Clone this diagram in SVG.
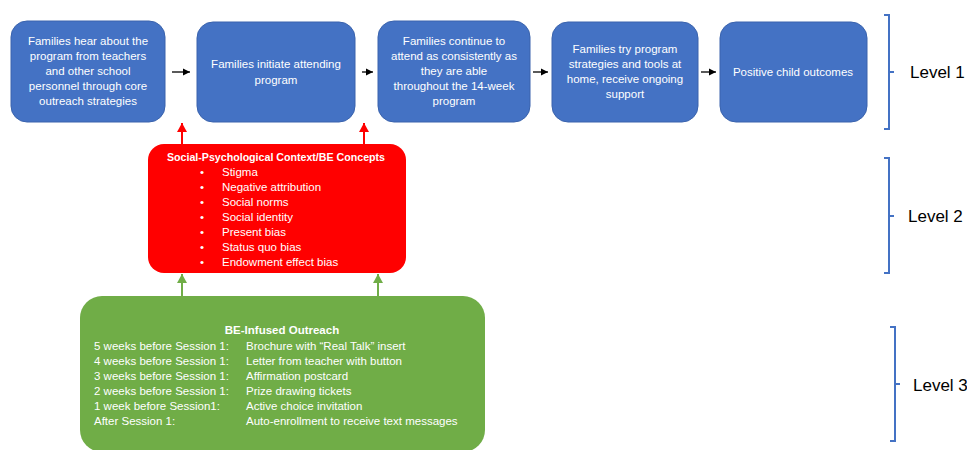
<svg xmlns="http://www.w3.org/2000/svg" width="967" height="450" viewBox="0 0 967 450">
<defs>
<marker id="ab" markerWidth="8" markerHeight="8" refX="7" refY="4" orient="auto" markerUnits="userSpaceOnUse"><path d="M0,0.5 L7,4 L0,7.5 Z" fill="#000"/></marker>
<marker id="ar" markerWidth="10" markerHeight="10" refX="9" refY="5" orient="auto" markerUnits="userSpaceOnUse"><path d="M0,0 L9,5 L0,10 Z" fill="#FF0000"/></marker>
<marker id="ag" markerWidth="10" markerHeight="10" refX="9" refY="5" orient="auto" markerUnits="userSpaceOnUse"><path d="M0,0 L9,5 L0,10 Z" fill="#70AD47"/></marker>
</defs>
<style>
text{font-family:"Liberation Sans",Arial,sans-serif;}
.bt{fill:#fff;font-size:11.5px;text-anchor:middle;}
.blue{fill:#4472C4;stroke:#3A63AD;stroke-width:1;}
.wt{fill:#fff;font-size:11.5px;}
.lv{fill:#000;font-size:17px;}
.br{fill:none;stroke:#4472C4;stroke-width:2;}
</style>
<rect width="967" height="450" fill="#fff"/>
<g id="n1"><rect class="blue" x="11" y="21" width="154" height="101" rx="16"/>
<text class="bt" x="88"><tspan x="88" y="45">Families hear about the</tspan><tspan x="88" y="60">program from teachers</tspan><tspan x="88" y="75">and other school</tspan><tspan x="88" y="90">personnel through core</tspan><tspan x="88" y="105">outreach strategies</tspan></text></g>
<g id="n2"><rect class="blue" x="197" y="22" width="158" height="100" rx="16"/>
<text class="bt"><tspan x="276" y="68">Families initiate attending</tspan><tspan x="276" y="84">program</tspan></text></g>
<g id="n3"><rect class="blue" x="378" y="21" width="152" height="101" rx="16"/>
<text class="bt"><tspan x="454" y="45">Families continue to</tspan><tspan x="454" y="60">attend as consistently as</tspan><tspan x="454" y="75">they are able</tspan><tspan x="454" y="90">throughout the 14-week</tspan><tspan x="454" y="105">program</tspan></text></g>
<g id="n4"><rect class="blue" x="552" y="22" width="146" height="100" rx="16"/>
<text class="bt"><tspan x="625" y="53">Families try program</tspan><tspan x="625" y="68">strategies and tools at</tspan><tspan x="625" y="83">home, receive ongoing</tspan><tspan x="625" y="98">support</tspan></text></g>
<g id="n5"><rect class="blue" x="720" y="22" width="147" height="100" rx="16"/>
<text class="bt"><tspan x="793" y="76">Positive child outcomes</tspan></text></g>
<g id="n6"><rect x="148" y="144" width="258" height="129" rx="16" fill="#FF0000"/>
<text class="wt" x="276" y="161" text-anchor="middle" font-weight="bold" textLength="218" lengthAdjust="spacingAndGlyphs">Social-Psychological Context/BE Concepts</text>
<g class="wt"><text x="200" y="176">•</text><text x="200" y="191">•</text><text x="200" y="206">•</text><text x="200" y="221">•</text><text x="200" y="236">•</text><text x="200" y="251">•</text><text x="200" y="266">•</text></g>
<text class="wt"><tspan x="222" y="176">Stigma</tspan><tspan x="222" y="191">Negative attribution</tspan><tspan x="222" y="206">Social norms</tspan><tspan x="222" y="221">Social identity</tspan><tspan x="222" y="236">Present bias</tspan><tspan x="222" y="251">Status quo bias</tspan><tspan x="222" y="266">Endowment effect bias</tspan></text></g>
<g id="n7"><rect x="80" y="296" width="405" height="156" rx="22" fill="#70AD47"/>
<text class="wt" x="282" y="334" text-anchor="middle" font-weight="bold">BE-Infused Outreach</text>
<text class="wt"><tspan x="94" y="350">5 weeks before Session 1:</tspan><tspan x="94" y="365">4 weeks before Session 1:</tspan><tspan x="94" y="380">3 weeks before Session 1:</tspan><tspan x="94" y="395">2 weeks before Session 1:</tspan><tspan x="94" y="410">1 week before Session1:</tspan><tspan x="94" y="425">After Session 1:</tspan></text>
<text class="wt"><tspan x="246" y="350">Brochure with “Real Talk” insert</tspan><tspan x="246" y="365">Letter from teacher with button</tspan><tspan x="246" y="380">Affirmation postcard</tspan><tspan x="246" y="395">Prize drawing tickets</tspan><tspan x="246" y="410">Active choice invitation</tspan><tspan x="246" y="425">Auto-enrollment to receive text messages</tspan></text></g>
<g id="levels">
<path class="br" d="M884,15 H889 V72 H894 M889,72 V129 H884"/>
<text class="lv" x="910" y="78">Level 1</text>
<path class="br" d="M884,158 H889 V216 H894 M889,216 V273 H884"/>
<text class="lv" x="908" y="222">Level 2</text>
<path class="br" d="M890,327 H895 V384 H900 M895,384 V441 H890"/>
<text class="lv" x="913" y="391">Level 3</text>
</g>
<g id="connectors">
<line x1="172" y1="72" x2="190" y2="72" stroke="#000" stroke-width="1.3" marker-end="url(#ab)"/>
<line x1="362" y1="72" x2="373" y2="72" stroke="#000" stroke-width="1.3" marker-end="url(#ab)"/>
<line x1="533" y1="72" x2="548" y2="72" stroke="#000" stroke-width="1.3" marker-end="url(#ab)"/>
<line x1="701" y1="72" x2="716" y2="72" stroke="#000" stroke-width="1.3" marker-end="url(#ab)"/>
<line x1="182" y1="144" x2="182" y2="123" stroke="#FF0000" stroke-width="2" marker-end="url(#ar)"/>
<line x1="364" y1="144" x2="364" y2="123" stroke="#FF0000" stroke-width="2" marker-end="url(#ar)"/>
<line x1="182" y1="296" x2="182" y2="274" stroke="#70AD47" stroke-width="2" marker-end="url(#ag)"/>
<line x1="378" y1="296" x2="378" y2="274" stroke="#70AD47" stroke-width="2" marker-end="url(#ag)"/>
</g>
</svg>
